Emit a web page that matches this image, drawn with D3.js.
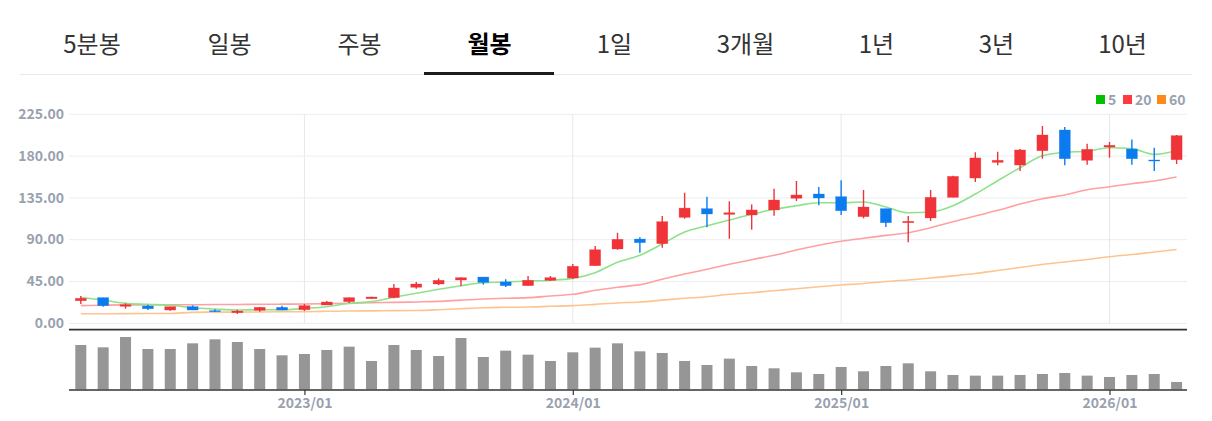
<!DOCTYPE html>
<html>
<head>
<meta charset="utf-8">
<script src="https://cdn.jsdelivr.net/npm/d3@7"></script>
<style>
html, body { margin: 0; padding: 0; background: #fff; overflow: hidden; }
svg { display: block; }
</style>
</head>
<body>
<svg id="chart" width="1212" height="421"></svg>
<script>
var tabs = ["5분봉", "일봉", "주봉", "월봉", "1일", "3개월", "1년", "3년", "10년"];
var tabCenters = [92, 229.5, 359.5, 489.5, 614.5, 745.5, 876.5, 996.5, 1122.5];
var activeTab = "월봉";

var months = ["2022/03","2022/04","2022/05","2022/06","2022/07","2022/08","2022/09","2022/10","2022/11","2022/12",
	"2023/01","2023/02","2023/03","2023/04","2023/05","2023/06","2023/07","2023/08","2023/09","2023/10","2023/11","2023/12",
	"2024/01","2024/02","2024/03","2024/04","2024/05","2024/06","2024/07","2024/08","2024/09","2024/10","2024/11","2024/12",
	"2025/01","2025/02","2025/03","2025/04","2025/05","2025/06","2025/07","2025/08","2025/09","2025/10","2025/11","2025/12",
	"2026/01","2026/02","2026/03","2026/04"];
var yTicks = [0, 45, 90, 135, 180, 225];
var xTicks = ["2023/01", "2024/01", "2025/01", "2026/01"];

var opens = [24.3,27.6,18.3,18.6,14.3,17.9,13.6,11.4,14,17.2,
	14.6,19.7,23.3,26.5,27.6,38.8,42.3,46.6,49.8,44.5,40.5,46.3,
	48.8,62,80,90.7,85.7,114,123.4,117.3,116.6,122,134.6,139.2,
	136.3,114.8,123.4,108.3,113.4,135.6,156.4,173.3,170.4,185.8,208.1,175.5,
	189.8,187.6,175.8,176.1];
var closes = [26.9,19,20,15.7,17.9,14.3,12.5,13.2,17.2,14.3,
	19,22.9,27.6,28.3,38,42.3,46.3,49.1,44.1,40.5,46.3,49.1,
	61.4,79.2,90.4,86.8,109.4,124,117.7,119,122,132.7,138.1,134.9,
	121.2,125.2,108.3,109.8,135.6,158.2,178,175.5,186.6,202.7,177.2,187.3,
	191.6,177.2,174.7,202];
var highs = [29.4,27.6,21.5,20,17.9,19.3,15,14.6,17.6,19,
	20.8,24,27.8,28.6,42.3,44.5,48.4,49.5,49.8,47.4,50.9,50.9,
	63.8,83.2,97.5,92.6,115.5,140.6,136.3,131.3,128,144.9,153.2,146.7,
	153.9,143.5,123.4,115.5,143.5,158.9,184.1,184.7,187.6,212.4,211.3,193.3,
	195.2,198,189,202.7];
var lows = [20.8,17.9,15.7,14.3,13.6,14.3,12.2,10,12.5,14,
	13.2,19.7,21.9,26.2,26.9,37.2,41.2,40.2,41.6,39.1,40.5,45.5,
	47.7,62,79.2,76,81.4,112.6,103.3,91,100.8,115.8,131.7,127,
	116.6,113,103.7,87.2,110.1,135.6,152.1,170.1,163.9,177.2,170.1,170.7,
	178.3,170.7,164,171.5];
var volumes = [133,126,157,121,121,138,150,142,121,102,
	106,118,128,85,133,118,100,154,97,116,104,85,
	111,125,138,114,109,85,73,92,70,63,51,46,
	67,54,70,78,54,43,41,41,43,46,49,41,
	37,43,46,22];

var ma5 = [27.8,25,21.5,20.4,19.4,16.8,15.4,14.3,14.6,14.6,
	16.1,17.9,21.5,23.3,28,32.3,36.6,40.5,43.7,44.5,45.5,46.3,
	48.4,54.5,65.7,73.2,85.4,98.3,105,111.2,117.3,122.7,126.6,129.8,
	129.8,130.6,125.2,119,119.8,126.6,139.2,153.5,167.5,180.4,184.1,185.2,
	189,188,181.9,185.8];
var ma20 = [19,19.5,19.8,19.8,20,20,20.2,20.3,20.5,20.6,
	20.8,21.2,21.5,22.2,22.5,23,23.6,25,26.2,26.9,27.6,29.4,
	31.2,35.5,38.8,41.6,47.4,53.1,58.1,63.5,68.5,73.2,78.9,84,
	88.3,91.5,94.7,97.5,102.9,109.4,115.5,121.6,128.4,134.1,138.1,143.8,
	147,150.3,153.2,157.5];
var ma60 = [10.3,10.3,10.4,10.5,10.6,11.8,12,12,12.2,12.4,
	12.5,12.9,13.2,13.4,13.6,13.8,14.6,15.7,16.8,17.2,17.5,18.3,
	19,20.4,21.9,22.9,25,26.9,28.6,31.2,32.9,35.1,37.2,39.4,
	41.2,42.8,45,46.6,48.8,51.1,53.6,56.9,60.1,63.3,66,68.7,
	71.7,74,76.8,79.4];

var legendNames = ["5", "20", "60"];
var legendColors = ["#00c000", "#ff3b3f", "#ff8a1c"];
var lineColors = ["#8fe28b", "#ffa0a3", "#fdc48f"];

var UP = "#ef3338";
var DOWN = "#0b7bef";
var LEFT = 69, RIGHT = 1187;
var fontName = "'Noto Sans CJK KR', 'Noto Sans', sans-serif";
var labelColor = "#98a1af";

var svg = d3.select("#chart");

// tabs on top
svg.append("line")
	.attr("x1", 20).attr("x2", 1192).attr("y1", 74.5).attr("y2", 74.5)
	.attr("stroke", "#e8e8e8").attr("stroke-width", 1);

svg.selectAll(".tab").data(tabs).enter().append("text")
	.attr("class", "tab")
	.attr("x", function(d, i) { return tabCenters[i]; })
	.attr("y", 53)
	.attr("text-anchor", "middle")
	.attr("font-family", "'Noto Sans CJK KR', sans-serif")
	.attr("font-size", "24px")
	.attr("font-weight", function(d) { return d == activeTab ? 700 : 400; })
	.attr("fill", function(d) { return d == activeTab ? "#000" : "#333"; })
	.text(function(d) { return d; });

svg.append("rect")
	.attr("x", 424).attr("y", 72).attr("width", 130).attr("height", 3)
	.attr("fill", "#1c1c20");

// scales
var x = d3.scaleLinear().domain([0, months.length - 1]).range([80.8, 1176.6]);
var y = d3.scaleLinear().domain([0, 225]).range([323.3, 114.3]);
var yVol = d3.scaleLinear().domain([0, 157]).range([389.3, 337]);

// grid
var gridY = svg.append("g");
gridY.selectAll("line").data(yTicks).enter().append("line")
	.attr("x1", LEFT).attr("x2", RIGHT)
	.attr("y1", function(d) { return y(d); })
	.attr("y2", function(d) { return y(d); })
	.attr("stroke", "#ebedf1").attr("stroke-width", 1);

var gridX = svg.append("g");
gridX.selectAll("line").data(xTicks).enter().append("line")
	.attr("x1", function(d) { return x(months.indexOf(d)); })
	.attr("x2", function(d) { return x(months.indexOf(d)); })
	.attr("y1", 114.3).attr("y2", 323.3)
	.attr("stroke", "#e6e8ee").attr("stroke-width", 1);

// y axis labels
var yAxis = d3.axisLeft(y).tickValues(yTicks).tickSize(0).tickPadding(0)
	.tickFormat(d3.format(".2f"));
var gy = svg.append("g").attr("transform", "translate(64,0)").call(yAxis);
gy.select(".domain").remove();
gy.selectAll("text")
	.attr("font-family", fontName).attr("font-size", "14px").attr("font-weight", 700)
	.attr("fill", labelColor).attr("dy", "0.3em");

// moving average lines
var line = d3.line()
	.x(function(d, i) { return x(i); })
	.y(function(d) { return y(d); })
	.curve(d3.curveMonotoneX);

[ma60, ma20, ma5].forEach(function(list, k) {
	svg.append("path")
		.attr("d", line(list))
		.attr("fill", "none")
		.attr("stroke", lineColors[2 - k])
		.attr("stroke-width", 1.6);
});

// candles
var candles = svg.append("g").selectAll("g").data(months).enter().append("g");

function candleColor(d, i) { return closes[i] >= opens[i] ? UP : DOWN; }

candles.append("line")
	.attr("x1", function(d, i) { return x(i); })
	.attr("x2", function(d, i) { return x(i); })
	.attr("y1", function(d, i) { return y(highs[i]); })
	.attr("y2", function(d, i) { return y(lows[i]); })
	.attr("stroke", candleColor)
	.attr("stroke-width", 1.4);

candles.append("rect")
	.attr("x", function(d, i) { return x(i) - 5.5; })
	.attr("width", 11)
	.attr("y", function(d, i) { return y(Math.max(opens[i], closes[i])); })
	.attr("height", function(d, i) { return Math.abs(y(opens[i]) - y(closes[i])); })
	.attr("fill", candleColor)
	.attr("stroke", candleColor)
	.attr("stroke-width", 0.6)
	.attr("stroke-opacity", 0.5);

// separators
svg.append("line")
	.attr("x1", LEFT).attr("x2", RIGHT).attr("y1", 329.6).attr("y2", 329.6)
	.attr("stroke", "#333").attr("stroke-width", 1.6);

// volume bars
svg.append("g").selectAll("rect").data(volumes).enter().append("rect")
	.attr("x", function(d, i) { return x(i) - 5.5; })
	.attr("width", 11)
	.attr("y", function(d) { return yVol(d); })
	.attr("height", function(d) { return yVol(0) - yVol(d); })
	.attr("fill", "#969696");

// bottom axis
var xAxis = d3.axisBottom(x)
	.tickValues(xTicks.map(function(d) { return months.indexOf(d); }))
	.tickSize(5).tickPadding(3)
	.tickFormat(function(d) { return months[d]; });
var gx = svg.append("g").attr("transform", "translate(0,390)").call(xAxis);
gx.select(".domain").remove();
gx.selectAll("line").attr("stroke", "#333").attr("stroke-width", 1.2);
gx.selectAll("text")
	.attr("font-family", fontName).attr("font-size", "14px").attr("font-weight", 700)
	.attr("fill", labelColor);

svg.append("line")
	.attr("x1", LEFT).attr("x2", RIGHT).attr("y1", 390).attr("y2", 390)
	.attr("stroke", "#333").attr("stroke-width", 1.6);

// legend
var legendX = [1096, 1123, 1157];
var legend = svg.append("g").selectAll("g").data(legendNames).enter().append("g");
legend.append("rect")
	.attr("x", function(d, i) { return legendX[i]; })
	.attr("y", 95).attr("width", 9).attr("height", 9)
	.attr("fill", function(d, i) { return legendColors[i]; });
legend.append("text")
	.attr("x", function(d, i) { return legendX[i] + 12; })
	.attr("y", 104.5)
	.attr("font-family", fontName).attr("font-size", "14px").attr("font-weight", 700)
	.attr("fill", labelColor)
	.text(function(d) { return d; });
</script>
</body>
</html>
